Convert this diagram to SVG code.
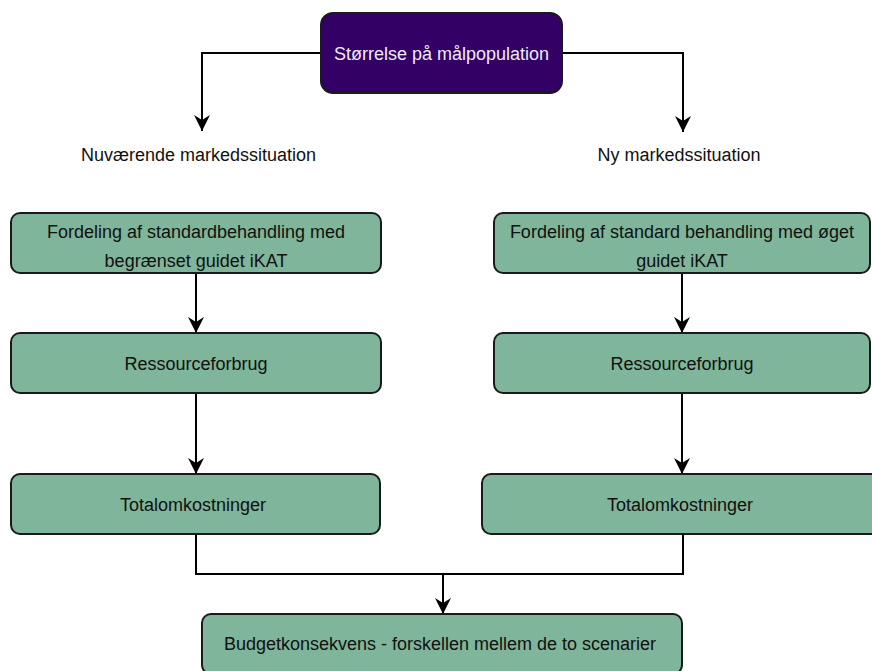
<svg xmlns="http://www.w3.org/2000/svg" width="872" height="671" viewBox="0 0 872 671">
<style>
.box{fill:#7fb59a;stroke:#1a1a1a;stroke-width:2}
.top{fill:#330066;stroke:#1a1a1a;stroke-width:2}
text{font-family:"Liberation Sans",Arial,sans-serif;font-size:18px;text-anchor:middle;fill:#111}
.wt{fill:#f0eaf5}
.edge{fill:none;stroke:#000;stroke-width:2}
</style>
<defs>
<marker id="arr" markerUnits="userSpaceOnUse" viewBox="0 0 16 16" refX="16" refY="8" markerWidth="16" markerHeight="16" orient="auto">
<path d="M0,0 L16,8 L0,16 L5,8 Z" fill="#000"/>
</marker>
</defs>
<rect width="872" height="671" fill="#fff"/>
<g id="connectors">
<path class="edge" d="M321,53 H202 V131" marker-end="url(#arr)"/>
<path class="edge" d="M562,53 H683 V132" marker-end="url(#arr)"/>
<path class="edge" d="M196,273 V333" marker-end="url(#arr)"/>
<path class="edge" d="M196,393 V474" marker-end="url(#arr)"/>
<path class="edge" d="M682,273 V333" marker-end="url(#arr)"/>
<path class="edge" d="M682,393 V474" marker-end="url(#arr)"/>
<path class="edge" d="M196,534 V574 H443 V614" marker-end="url(#arr)"/>
<path class="edge" d="M683,534 V574 H443"/>
</g>
<g id="n-top">
<rect class="top" x="321" y="13" width="241" height="80" rx="12"/>
<text class="wt" x="441.5" y="60">Størrelse på målpopulation</text>
</g>
<g id="lbl-left"><text x="198.5" y="161">Nuværende markedssituation</text></g>
<g id="lbl-right"><text x="679" y="161">Ny markedssituation</text></g>
<g id="n-l1">
<rect class="box" x="11" y="213" width="370" height="60" rx="9"/>
<text x="196" y="238">Fordeling af standardbehandling med</text>
<text x="196" y="267">begrænset guidet iKAT</text>
</g>
<g id="n-r1">
<rect class="box" x="494" y="213" width="376" height="60" rx="9"/>
<text x="682" y="238">Fordeling af standard behandling med øget</text>
<text x="682" y="267">guidet iKAT</text>
</g>
<g id="n-l2">
<rect class="box" x="11" y="333" width="370" height="60" rx="9"/>
<text x="196" y="370">Ressourceforbrug</text>
</g>
<g id="n-r2">
<rect class="box" x="494" y="333" width="376" height="60" rx="9"/>
<text x="682" y="370">Ressourceforbrug</text>
</g>
<g id="n-l3">
<rect class="box" x="11" y="474" width="369" height="60" rx="9"/>
<text x="193" y="511">Totalomkostninger</text>
</g>
<g id="n-r3">
<rect class="box" x="482" y="474" width="400" height="60" rx="9"/>
<text x="680" y="511">Totalomkostninger</text>
</g>
<g id="n-bottom">
<rect class="box" x="202" y="614" width="480" height="60" rx="9"/>
<text x="440" y="650">Budgetkonsekvens - forskellen mellem de to scenarier</text>
</g>
</svg>
